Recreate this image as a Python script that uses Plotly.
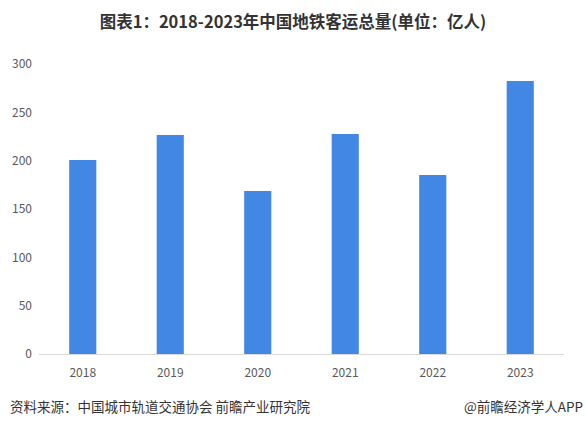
import plotly.graph_objects as go

# 年份与地铁客运总量(亿人)
years = ["2018", "2019", "2020", "2021", "2022", "2023"]
passengers = [200.7, 226.6, 168.6, 227.6, 185.2, 282.4]
y_ticks = [0, 50, 100, 150, 200, 250, 300]

fig = go.Figure(go.Bar(
    x=years,
    y=passengers,
    marker_color="#4287E3",
    marker_line_width=0,
))

fig.update_layout(
    width=586,
    height=427,
    margin=dict(l=39, r=22, t=64, b=73),
    plot_bgcolor="white",
    paper_bgcolor="white",
    bargap=0.69,
    showlegend=False,
    font=dict(family="Noto Sans CJK SC", color="#595959", size=12),
    title=dict(
        text="<b>图表1：2018-2023年中国地铁客运总量(单位：亿人)</b>",
        x=0.5, xanchor="center",
        y=1 - 22 / 427, yanchor="middle",
        font=dict(size=16.5, color="#333333", family="Noto Sans CJK SC"),
    ),
)

fig.update_xaxes(
    showgrid=False,
    showline=True,
    linecolor="#D9D9D9",
    linewidth=1,
    ticks="",
    ticklabelstandoff=8,
)

# 设y轴
fig.update_yaxes(
    range=[0, 300],
    tickvals=y_ticks,
    showgrid=False,
    zeroline=False,
    showline=False,
    ticks="",
    ticklabelstandoff=6,
)

fig.add_annotation(
    text="资料来源：中国城市轨道交通协会 前瞻产业研究院",
    xref="paper", yref="paper",
    x=-31 / 525, y=-(406 - 354) / 290,
    xanchor="left", yanchor="middle",
    showarrow=False,
    font=dict(size=13.5, color="#333333"),
)
fig.add_annotation(
    text="@前瞻经济学人APP",
    xref="paper", yref="paper",
    x=(585 - 39) / 525, y=-(406 - 354) / 290,
    xanchor="right", yanchor="middle",
    showarrow=False,
    font=dict(size=13.5, color="#333333"),
)

fig.write_html("out.html", config={"displayModeBar": False},
               post_script="document.body.style.margin='0';")
